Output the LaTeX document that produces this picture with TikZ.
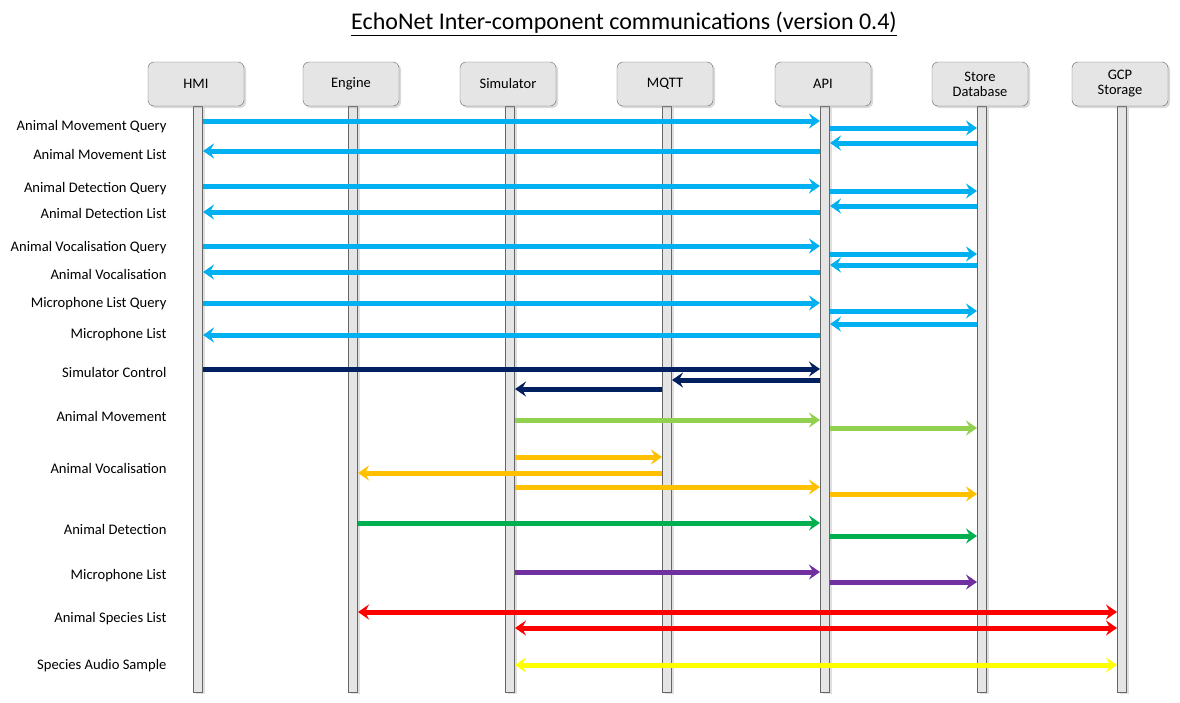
\documentclass[tikz,border=0pt]{standalone}
\usepackage{fontspec}
\setmainfont{Carlito}
\usetikzlibrary{arrows.meta,shadows}
\definecolor{cblue}{HTML}{00B0F0}
\definecolor{cnavy}{HTML}{002060}
\definecolor{clgreen}{HTML}{92D050}
\definecolor{corange}{HTML}{FFC000}
\definecolor{cgreen}{HTML}{00B050}
\definecolor{cpurple}{HTML}{7030A0}
\definecolor{cred}{HTML}{FF0000}
\definecolor{cyellow}{HTML}{FFFF00}
\begin{document}
\begin{tikzpicture}[x=1pt,y=-1pt,
  hdr/.style={draw=gray!80!black,fill=gray!20,rounded corners=6pt,minimum width=96pt,minimum height=44pt,align=center,font=\fontsize{14.5}{15}\selectfont,drop shadow={opacity=0.3,shadow xshift=2pt,shadow yshift=-2pt}},
  life/.style={draw=gray!80!black,fill=gray!20,minimum width=9pt,minimum height=586pt,inner sep=0pt,drop shadow={opacity=0.25,shadow xshift=2pt,shadow yshift=-2pt}},
  lbl/.style={anchor=east,font=\fontsize{14.6}{15}\selectfont},
  msg/.style={line width=5pt,-{Stealth[length=11pt,width=15pt,inset=4pt]}},
  bmsg/.style={line width=5pt,{Stealth[length=11pt,width=15pt,inset=4pt]}-{Stealth[length=11pt,width=15pt,inset=4pt]}}]
\useasboundingbox (0,0) rectangle (1180,702);
\node[font=\fontsize{24}{26}\selectfont] (title) at (624,24) {\underline{EchoNet Inter-component communications (version 0.4)}};
\foreach \n/\x/\t in {hmi/198/HMI,eng/353/Engine,sim/510/Simulator,mqtt/667/MQTT,api/825/API,db/982/{Store\\Database},gcp/1122/{GCP\\Storage}}{
  \node[life] (\n L) at (\x,399) {};
  \node[hdr] (\n) at (\x-2,84) {\t};
}
\foreach \n/\x in {hmi/198,eng/353,sim/510,mqtt/667,api/825,db/982,gcp/1122}{
  \foreach \y in {121,128,143,151,186,191,206,212,246,254,265,272,303,311,324,335,369,380,389,420,428,457,473,487,494,523,536,572,582,612,628,665}{
    \coordinate (\n-\y-l) at (\x-5,\y);
    \coordinate (\n-\y-r) at (\x+5,\y);
  }
}
% queries
\foreach \a/\b/\c/\d in {121/128/143/151,186/191/206/212,246/254/265/272,303/311/324/335}{
  \draw[msg,cblue] (hmi-\a-r) -- (api-\a-l);
  \draw[msg,cblue] (api-\b-r) -- (db-\b-l);
  \draw[msg,cblue] (db-\c-l) -- (api-\c-r);
  \draw[msg,cblue] (api-\d-l) -- (hmi-\d-r);
}
\draw[msg,cnavy] (hmi-369-r) -- (api-369-l);
\draw[msg,cnavy] (api-380-l) -- (mqtt-380-r);
\draw[msg,cnavy] (mqtt-389-l) -- (sim-389-r);
\draw[msg,clgreen] (sim-420-r) -- (api-420-l);
\draw[msg,clgreen] (api-428-r) -- (db-428-l);
\draw[msg,corange] (sim-457-r) -- (mqtt-457-l);
\draw[msg,corange] (mqtt-473-l) -- (eng-473-r);
\draw[msg,corange] (sim-487-r) -- (api-487-l);
\draw[msg,corange] (api-494-r) -- (db-494-l);
\draw[msg,cgreen] (eng-523-r) -- (api-523-l);
\draw[msg,cgreen] (api-536-r) -- (db-536-l);
\draw[msg,cpurple] (sim-572-r) -- (api-572-l);
\draw[msg,cpurple] (api-582-r) -- (db-582-l);
\draw[bmsg,cred] (eng-612-r) -- (gcp-612-l);
\draw[bmsg,cred] (sim-628-r) -- (gcp-628-l);
\draw[bmsg,cyellow] (sim-665-r) -- (gcp-665-l);
\foreach \y/\t in {127/Animal Movement Query,154/Animal Movement List,189/Animal Detection Query,213/Animal Detection List,248/Animal Vocalisation Query,274/Animal Vocalisation,304/Microphone List Query,335/Microphone List,372/Simulator Control,416/Animal Movement,468/Animal Vocalisation,529/Animal Detection,576/Microphone List,619/Animal Species List,666/Species Audio Sample}
  \node[lbl] at (170,\y) {\t};
\end{tikzpicture}
\end{document}
